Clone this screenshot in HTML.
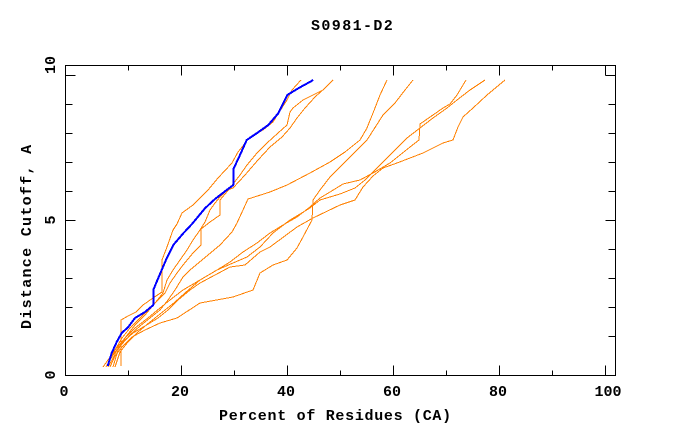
<!DOCTYPE html>
<html>
<head>
<meta charset="utf-8">
<style>
  html,body{margin:0;padding:0;background:#fff;}
  svg{display:block;}
  text{font-family:"Liberation Mono","DejaVu Sans Mono",monospace;font-weight:bold;font-size:15px;fill:#000;}
</style>
</head>
<body>
<svg width="680" height="440" viewBox="0 0 680 440" xmlns="http://www.w3.org/2000/svg">
  <rect x="0" y="0" width="680" height="440" fill="#fff"/>

  <!-- title -->
  <text x="311" y="30" style="letter-spacing:1.4px">S0981-D2</text>

  <!-- frame -->
  <g stroke="#000" stroke-width="1" fill="none" shape-rendering="crispEdges">
    <rect x="65.5" y="65.5" width="550" height="310"/>
    <path d="M128.5 375.5V370.5 M181.5 375.5V365.5 M234.5 375.5V370.5 M287.5 375.5V365.5 M340.5 375.5V370.5 M393.5 375.5V365.5 M446.5 375.5V370.5 M499.5 375.5V365.5 M552.5 375.5V370.5 M605.5 375.5V365.5"/>
    <path d="M128.5 65.5V70.5 M181.5 65.5V75.5 M234.5 65.5V70.5 M287.5 65.5V75.5 M340.5 65.5V70.5 M393.5 65.5V75.5 M446.5 65.5V70.5 M499.5 65.5V75.5 M552.5 65.5V70.5 M605.5 65.5V75.5"/>
    <path d="M65.5 336.5H72.5 M65.5 307.5H72.5 M65.5 278.5H72.5 M65.5 249.5H72.5 M65.5 220.5H75.5 M65.5 191.5H72.5 M65.5 162.5H72.5 M65.5 133.5H72.5 M65.5 104.5H72.5 M65.5 75.5H75.5"/>
    <path d="M615.5 336.5H608.5 M615.5 307.5H608.5 M615.5 278.5H608.5 M615.5 249.5H608.5 M615.5 220.5H605.5 M615.5 191.5H608.5 M615.5 162.5H608.5 M615.5 133.5H608.5 M615.5 104.5H608.5 M615.5 75.5H605.5"/>
  </g>

  <!-- x tick labels -->
  <g text-anchor="middle">
    <text x="64" y="396">0</text>
    <text x="180" y="396">20</text>
    <text x="286" y="396">40</text>
    <text x="392" y="396">60</text>
    <text x="498" y="396">80</text>
    <text x="608" y="396">100</text>
  </g>
  <!-- y tick labels (rotated) -->
  <g text-anchor="middle">
    <text transform="translate(55,65) rotate(-90)">10</text>
    <text transform="translate(55,220) rotate(-90)">5</text>
    <text transform="translate(55,375) rotate(-90)">0</text>
  </g>

  <!-- axis labels -->
  <text x="219" y="420" style="letter-spacing:0.7px">Percent of Residues (CA)</text>
  <text transform="translate(31,329) rotate(-90)" style="letter-spacing:1.3px">Distance Cutoff, A</text>

  <!-- orange series -->
  <g fill="none" stroke="#ff8000" stroke-width="1" stroke-linejoin="round" shape-rendering="crispEdges">
    <polyline points="301,80 292,90 287,100 278,114 273,122 263,130 250,137 238,152 232,163 218,178 208,190 193,205 182,213 177,224 173,230 167,247 162,260 162,292 153,298 143,305 136,312 128,316 121,320 121,366"/>
    <polyline points="333,80 325,88 315,97 305,108 297,118 290,128 282,137 270,147 258,160 245,175 233,188 227,190 220,197 215,203 210,210 205,222 200,230 193,240 187,250 180,260 173,270 167,280 163,293 155,303 145,315 135,325 125,338 115,350 108,360 103,367"/>
    <polyline points="333,80 323,90 303,100 293,108 290,112 287,125 278,133 267,143 257,153 247,165 240,175 230,188 220,200 220,215 210,222 201,229 201,245 193,253 183,265 177,273 170,283 165,293 158,300 150,308 140,318 130,328 122,338 115,350 110,360 106,367"/>
    <polyline points="387,80 380,95 375,108 367,128 360,140 345,152 330,162 310,173 287,185 270,192 248,199 243,210 237,223 232,232 220,245 202,260 190,270 183,277 175,290 168,300 160,310 150,318 140,326 130,335 122,344 115,352 110,360 106,367"/>
    <polyline points="413,80 405,90 395,103 383,115 367,140 347,160 330,177 320,190 313,200 312,220 303,237 297,248 287,260 273,265 260,273 253,290 233,297 200,303 177,318 160,323 145,330 132,337 122,347 115,356 110,367"/>
    <polyline points="466,80 457,95 450,104 443,108 433,115 420,124 419,140 410,147 400,155 390,163 373,173 360,180 343,184 330,192 320,198 310,207 297,217 283,225 270,233 257,243 243,252 230,262 217,270 200,280 183,290 170,300 160,308 148,318 135,328 125,338 118,350 113,367"/>
    <polyline points="485,80 470,90 457,100 447,108 433,118 420,128 407,138 397,148 385,160 375,170 365,180 355,188 340,194 320,200 310,208 290,220 273,233 260,247 247,257 233,263 217,270 200,280 185,293 175,302 165,310 150,322 138,332 128,342 120,352 115,367"/>
    <polyline points="505,80 487,95 473,108 463,117 458,127 453,140 443,143 433,148 423,153 410,158 397,163 383,168 373,176 363,187 355,200 340,205 313,218 297,227 270,247 260,252 245,265 230,267 215,275 200,283 190,290 178,300 168,310 158,318 145,326 133,333 125,340 118,348 112,360 108,367"/>
  </g>

  <!-- blue series -->
  <polyline fill="none" stroke="#0000ff" stroke-width="2" stroke-linejoin="round" shape-rendering="crispEdges"
    points="107.7,366 111.7,353 116.7,342 121.7,333 128.3,327 135,318 145,312 153.3,305 153.3,290 157,281 161.7,270 166.7,258.3 173.3,245 183.3,233.3 191.7,224.3 205,208.3 215,199 226.7,190 233.3,185 233.3,169.3 240,155 246.7,140 256.7,133.3 268.3,125 278.3,113.3 287.3,95 298.3,88.3 313.3,80"/>
</svg>
</body>
</html>
